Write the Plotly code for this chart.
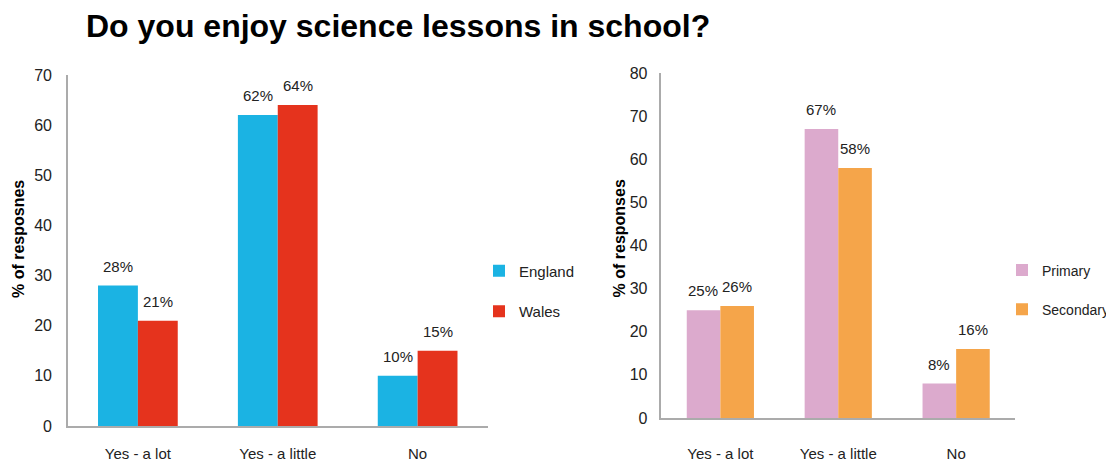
import plotly.graph_objects as go

categories = ["Yes - a lot", "Yes - a little", "No"]
england = [28, 62, 10]
wales = [21, 64, 15]
primary = [25, 67, 8]
secondary = [26, 58, 16]
left_ticks = [0, 10, 20, 30, 40, 50, 60, 70]
right_ticks = [0, 10, 20, 30, 40, 50, 60, 70, 80]

FONT = "Liberation Sans, Arial"
# the page body has an 8px margin; the figure is sized so it ends at the window edge
OFF = 8
W, H = 1114 - OFF, 462 - OFF


def px(x):
    return (x - OFF) / W


def py(y):
    return 1 - (y - OFF) / H


fig = go.Figure()


def add(name, vals, color, xa, ya, leg, shift):
    fig.add_trace(go.Bar(
        x=categories, y=vals, name=name, marker_color=color, marker_line_width=0,
        xaxis=xa, yaxis=ya, legend=leg, legendgroup=name,
        hovertemplate="%{x}: %{y}%<extra>" + name + "</extra>",
    ))
    for c, v in zip(categories, vals):
        fig.add_annotation(x=c, y=v, xref=xa, yref=ya, text=f"{v}%", showarrow=False,
                           xshift=shift, yshift=9, yanchor="bottom",
                           font=dict(family=FONT, size=15, color="#222"))


add("England", england, "#1bb3e3", "x", "y", "legend", -20)
add("Wales", wales, "#e5331d", "x", "y", "legend", 20)
add("Primary", primary, "#dcaacd", "x2", "y2", "legend2", -17)
add("Secondary", secondary, "#f5a54a", "x2", "y2", "legend2", 17)

axis_common = dict(showgrid=False, showline=True, linecolor="#ababab", linewidth=1.5,
                   ticks="", zeroline=False, automargin=False, fixedrange=True)
xfont = dict(family=FONT, size=15, color="#222")
yfont = dict(family=FONT, size=16, color="#222")

fig.update_layout(
    width=W, height=H, margin=dict(l=0, r=0, t=0, b=0),
    paper_bgcolor="white", plot_bgcolor="white",
    barmode="group", bargap=0.43, bargroupgap=0,
    showlegend=True,
    title=dict(text="<b>Do you enjoy science lessons in school?</b>", x=px(86), xanchor="left",
               y=py(26), yanchor="middle", font=dict(family=FONT, size=32, color="#000")),
    xaxis=dict(domain=[px(68), px(488)], anchor="y", ticklabelstandoff=13, tickfont=xfont, **axis_common),
    yaxis=dict(domain=[py(426), py(75)], anchor="x", range=[0, 70], tickvals=left_ticks,
               ticklabelstandoff=11, tickfont=yfont, **axis_common),
    xaxis2=dict(domain=[px(662), px(1016)], anchor="y2", ticklabelstandoff=21, tickfont=xfont, **axis_common),
    yaxis2=dict(domain=[py(418), py(73)], anchor="x2", range=[0, 80], tickvals=right_ticks,
                ticklabelstandoff=9, tickfont=yfont, **axis_common),
    legend=dict(x=px(479), y=py(291), xanchor="left", yanchor="middle",
                font=dict(family=FONT, size=15, color="#222"), tracegroupgap=18,
                traceorder="grouped", bgcolor="rgba(0,0,0,0)"),
    legend2=dict(x=px(1003), y=py(290), xanchor="left", yanchor="middle",
                 font=dict(family=FONT, size=14, color="#222"), tracegroupgap=18,
                 traceorder="grouped", bgcolor="rgba(0,0,0,0)"),
)

fig.add_annotation(x=px(19), y=py(239), xref="paper", yref="paper", text="<b>% of resposnes</b>",
                   textangle=-90, showarrow=False, xanchor="center", yanchor="middle",
                   font=dict(family=FONT, size=16, color="#000"))
fig.add_annotation(x=px(620), y=py(238), xref="paper", yref="paper", text="<b>% of responses</b>",
                   textangle=-90, showarrow=False, xanchor="center", yanchor="middle",
                   font=dict(family=FONT, size=16, color="#000"))

fig.write_html("out.html")
